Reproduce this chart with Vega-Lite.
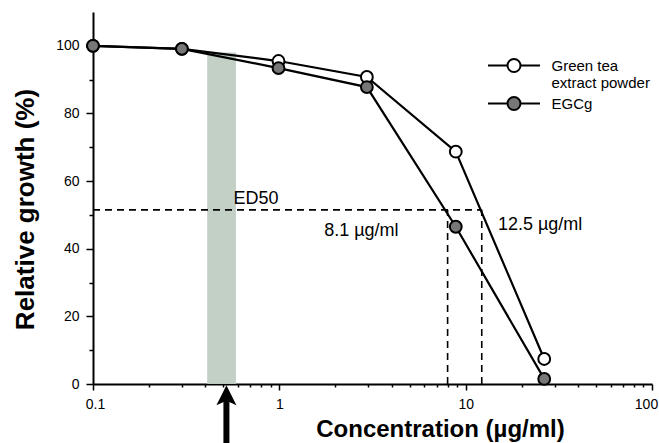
{
  "$schema": "https://vega.github.io/schema/vega-lite/v6.json",
  "width": 559,
  "height": 372,
  "autosize": "none",
  "padding": {"left": 93, "top": 12, "right": 7, "bottom": 59},
  "background": "white",
  "config": {"view": {"stroke": null}, "font": "Liberation Sans"},
  "datasets": {
    "series": [
      {"series": "Green tea extract powder", "x": 0.1, "y": 100},
      {"series": "Green tea extract powder", "x": 0.3, "y": 99.1},
      {"series": "Green tea extract powder", "x": 0.99, "y": 95.5},
      {"series": "Green tea extract powder", "x": 2.95, "y": 90.8},
      {"series": "Green tea extract powder", "x": 8.85, "y": 68.7},
      {"series": "Green tea extract powder", "x": 26.4, "y": 7.4},
      {"series": "EGCg", "x": 0.1, "y": 100},
      {"series": "EGCg", "x": 0.3, "y": 99.1},
      {"series": "EGCg", "x": 0.99, "y": 93.4},
      {"series": "EGCg", "x": 2.95, "y": 87.8},
      {"series": "EGCg", "x": 8.85, "y": 46.5},
      {"series": "EGCg", "x": 26.4, "y": 1.5}
    ],
    "band": [{"x": 0.41, "x2": 0.585, "y": 0, "y2": 98}],
    "ed50": [{"x": 0.1, "x2": 12.2, "y": 51.5}],
    "vert": [{"x": 8.0, "y": 0, "y2": 51.5}, {"x": 12.2, "y": 0, "y2": 51.5}],
    "centerLabels": [{"x": 0.75, "y": 53.2, "text": "ED50"}],
    "leftLabels": [
      {"x": 1.74, "y": 43.8, "text": "8.1  µg/ml"},
      {"x": 14.9, "y": 45.5, "text": "12.5  µg/ml"}
    ],
    "shaft": [{"x": 0.52, "y": -20, "y2": -4}],
    "head": [{"x": 0.52, "y": -3.3}]
  },
  "encoding": {
    "x": {
      "field": "x",
      "type": "quantitative",
      "scale": {"type": "log", "domain": [0.1, 100], "nice": false},
      "axis": {
        "title": "Concentration (µg/ml)",
        "titleFont": "Liberation Sans",
        "titleFontSize": 24,
        "titleFontWeight": "bold",
        "titleColor": "black",
        "titleX": 347,
        "titleY": 52,
        "titleBaseline": "alphabetic",
        "titleAnchor": null,
        "titleAlign": "center",
        "values": [0.1, 0.2, 0.3, 0.4, 0.5, 0.6, 0.7, 0.8, 0.9, 1, 2, 3, 4, 5, 6, 7, 8, 9, 10, 20, 30, 40, 50, 60, 70, 80, 90, 100],
        "labelExpr": "datum.value == 0.1 ? '0.1' : datum.value == 1 ? '1' : datum.value == 10 ? '10' : datum.value == 100 ? '100' : ''",
        "labelOverlap": false,
        "labelFlush": false,
        "labelOffset": {"condition": [{"test": "datum.value == 100", "value": -6}, {"test": "datum.value == 0.1", "value": 2}], "value": 0},
        "labelFontSize": 14,
        "labelColor": "black",
        "labelPadding": 7,
        "grid": false,
        "domainColor": "black",
        "domainWidth": 2,
        "tickColor": "black",
        "tickWidth": 1.5,
        "tickSize": {"condition": {"test": "datum.value == 0.1 || datum.value == 1 || datum.value == 10 || datum.value == 100", "value": 6}, "value": 3}
      }
    },
    "y": {
      "field": "y",
      "type": "quantitative",
      "scale": {"domain": [0, 110], "nice": false, "zero": false},
      "axis": {
        "title": "Relative growth (%)",
        "titleFont": "Liberation Sans",
        "titleFontSize": 26,
        "titleFontWeight": "bold",
        "titleColor": "black",
        "titleX": -60,
        "titleY": 197,
        "titleBaseline": "alphabetic",
        "titleAnchor": null,
        "titleAlign": "center",
        "values": [0, 10, 20, 30, 40, 50, 60, 70, 80, 90, 100],
        "labelExpr": "datum.value % 20 == 0 ? datum.label : ''",
        "labelOverlap": false,
        "labelFontSize": 14,
        "labelColor": "black",
        "labelPadding": 7,
        "grid": false,
        "domainColor": "black",
        "domainWidth": 2,
        "tickColor": "black",
        "tickWidth": 1.5,
        "tickSize": {"condition": {"test": "datum.value % 20 == 0", "value": 7}, "value": 4}
      }
    }
  },
  "layer": [
    {
      "data": {"name": "band"},
      "mark": {"type": "rect", "color": "#c0cec3", "opacity": 0.95},
      "encoding": {"x2": {"field": "x2"}, "y2": {"field": "y2"}}
    },
    {
      "data": {"name": "ed50"},
      "mark": {"type": "rule", "color": "black", "strokeWidth": 1.6, "strokeDash": [7, 5]},
      "encoding": {"x2": {"field": "x2"}}
    },
    {
      "data": {"name": "vert"},
      "mark": {"type": "rule", "color": "black", "strokeWidth": 1.6, "strokeDash": [7, 5]},
      "encoding": {"y2": {"field": "y2"}}
    },
    {
      "data": {"name": "centerLabels"},
      "mark": {"type": "text", "fontSize": 18, "align": "center", "baseline": "alphabetic", "color": "black"},
      "encoding": {"text": {"field": "text"}}
    },
    {
      "data": {"name": "leftLabels"},
      "mark": {"type": "text", "fontSize": 18, "align": "left", "baseline": "alphabetic", "color": "black"},
      "encoding": {"text": {"field": "text"}}
    },
    {
      "data": {"name": "series"},
      "mark": {"type": "line", "color": "black", "strokeWidth": 2.2},
      "encoding": {"detail": {"field": "series"}}
    },
    {
      "data": {"name": "series"},
      "mark": {"type": "point", "shape": "circle", "filled": true, "stroke": "black", "strokeWidth": 2, "size": 140, "opacity": 1},
      "encoding": {
        "fill": {
          "field": "series",
          "type": "nominal",
          "scale": {"domain": ["Green tea extract powder", "EGCg"], "range": ["white", "#777777"]},
          "legend": {
            "title": null,
            "orient": "none",
            "legendX": 413.5,
            "legendY": 46,
            "padding": 0,
            "symbolType": "M-4,0L-1,0M1,0L4,0M1,0A1,1 0 1,1 -1,0A1,1 0 1,1 1,0Z",
            "symbolSize": 169,
            "symbolStrokeColor": "black",
            "symbolStrokeWidth": 2,
            "symbolOffset": 0,
            "labelOffset": 30,
            "labelFontSize": 15,
            "labelColor": "black",
            "labelLineHeight": 17,
            "labelLimit": 300,
            "rowPadding": 2,
            "labelExpr": "datum.label == 'Green tea extract powder' ? ['Green tea', 'extract powder'] : datum.label"
          }
        }
      }
    },
    {
      "data": {"name": "shaft"},
      "mark": {"type": "rule", "color": "black", "strokeWidth": 6},
      "encoding": {"y2": {"field": "y2"}}
    },
    {
      "data": {"name": "head"},
      "mark": {"type": "point", "shape": "M0,-1L-1,1L0,0.55L1,1Z", "filled": true, "color": "black", "size": 400, "opacity": 1},
      "encoding": {}
    }
  ]
}
